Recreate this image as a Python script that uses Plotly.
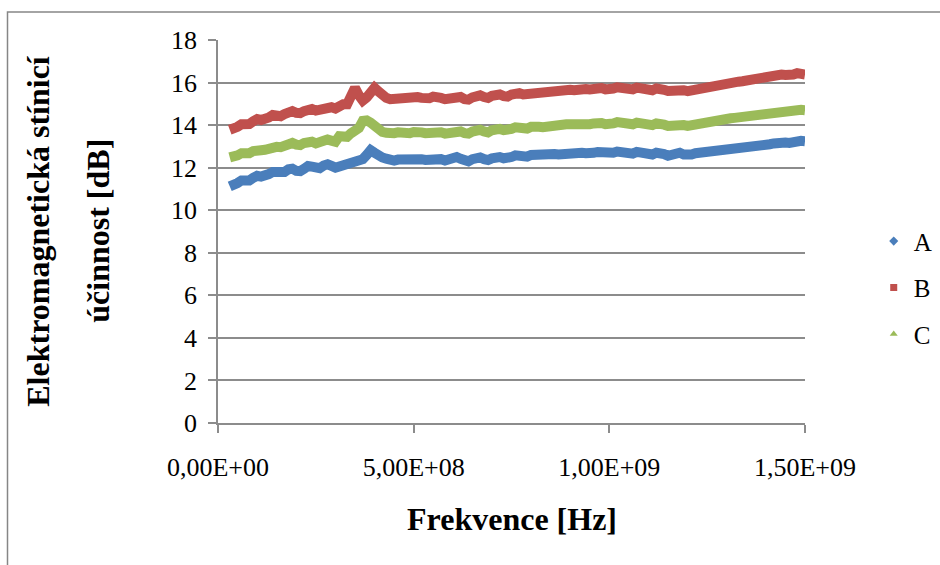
import numpy as np
import plotly.graph_objects as go

# Frequency sweep: 30 MHz to 1.5 GHz in 10 MHz steps
freq_hz = [3e7 + i * 1e7 for i in range(148)]

series_a = [
    11.12, 11.15, 11.28, 11.40, 11.38, 11.40, 11.52, 11.62, 11.58, 11.60,
    11.70, 11.80, 11.76, 11.72, 11.80, 11.92, 11.95, 11.85, 11.84, 11.95,
    12.08, 12.05, 11.96, 11.98, 12.10, 12.16, 12.08, 12.00, 12.06, 12.10,
    12.15, 12.28, 12.32, 12.33, 12.40, 12.60, 12.82, 12.70, 12.52, 12.48,
    12.42, 12.36, 12.33, 12.38, 12.40, 12.38, 12.36, 12.40, 12.44, 12.40,
    12.36, 12.38, 12.46, 12.48, 12.40, 12.34, 12.38, 12.48, 12.50, 12.42,
    12.34, 12.30, 12.40, 12.50, 12.48, 12.40, 12.36, 12.44, 12.52, 12.50,
    12.44, 12.42, 12.50, 12.58, 12.55, 12.50, 12.52, 12.60, 12.62, 12.58,
    12.56, 12.60, 12.66, 12.64, 12.62, 12.65, 12.68, 12.66, 12.64, 12.68,
    12.70, 12.68, 12.66, 12.70, 12.74, 12.72, 12.66, 12.64, 12.70, 12.76,
    12.74, 12.66, 12.60, 12.66, 12.74, 12.72, 12.64, 12.58, 12.62, 12.70,
    12.72, 12.64, 12.56, 12.60, 12.68, 12.70, 12.62, 12.58, 12.62, 12.68,
    12.70, 12.66, 12.66, 12.70, 12.74, 12.76, 12.78, 12.80, 12.84, 12.86,
    12.88, 12.90, 12.94, 12.96, 12.98, 13.02, 13.06, 13.08, 13.10, 13.14,
    13.18, 13.20, 13.18, 13.16, 13.22, 13.28, 13.26, 13.24,
]

series_b = [
    13.78, 13.80, 13.92, 14.04, 14.02, 14.05, 14.18, 14.28, 14.24, 14.26,
    14.36, 14.48, 14.45, 14.42, 14.52, 14.64, 14.66, 14.58, 14.56, 14.66,
    14.78, 14.76, 14.68, 14.72, 14.84, 14.90, 14.84, 14.78, 14.96, 14.98,
    14.98, 15.30, 15.75, 15.40, 15.15, 15.30, 15.60, 15.75, 15.58, 15.40,
    15.28, 15.22, 15.24, 15.28, 15.26, 15.22, 15.24, 15.30, 15.32, 15.28,
    15.24, 15.26, 15.34, 15.36, 15.28, 15.22, 15.26, 15.36, 15.40, 15.32,
    15.22, 15.20, 15.30, 15.42, 15.40, 15.32, 15.28, 15.38, 15.46, 15.44,
    15.36, 15.34, 15.44, 15.52, 15.50, 15.44, 15.46, 15.54, 15.58, 15.54,
    15.52, 15.56, 15.62, 15.62, 15.60, 15.62, 15.66, 15.66, 15.64, 15.68,
    15.72, 15.70, 15.68, 15.72, 15.76, 15.74, 15.68, 15.66, 15.72, 15.78,
    15.76, 15.68, 15.62, 15.68, 15.76, 15.74, 15.66, 15.60, 15.64, 15.72,
    15.74, 15.66, 15.60, 15.62, 15.70, 15.72, 15.64, 15.60, 15.64, 15.72,
    15.76, 15.74, 15.76, 15.82, 15.86, 15.88, 15.92, 15.96, 16.00, 16.02,
    16.04, 16.06, 16.10, 16.14, 16.16, 16.18, 16.22, 16.26, 16.28, 16.30,
    16.34, 16.38, 16.36, 16.32, 16.38, 16.44, 16.42, 16.38,
]

series_c = [
    12.48, 12.50, 12.58, 12.68, 12.66, 12.68, 12.78, 12.86, 12.82, 12.84,
    12.92, 13.02, 12.98, 12.96, 13.04, 13.14, 13.16, 13.08, 13.06, 13.16,
    13.24, 13.22, 13.14, 13.16, 13.26, 13.32, 13.28, 13.22, 13.48, 13.42,
    13.45, 13.62, 13.72, 13.86, 14.20, 14.22, 14.12, 13.95, 13.75, 13.68,
    13.64, 13.60, 13.62, 13.66, 13.64, 13.60, 13.62, 13.68, 13.70, 13.66,
    13.62, 13.64, 13.72, 13.74, 13.66, 13.60, 13.64, 13.74, 13.78, 13.70,
    13.62, 13.60, 13.70, 13.80, 13.78, 13.70, 13.66, 13.76, 13.84, 13.82,
    13.76, 13.74, 13.82, 13.90, 13.88, 13.82, 13.84, 13.92, 13.96, 13.92,
    13.90, 13.94, 14.00, 14.00, 13.98, 14.00, 14.04, 14.04, 14.02, 14.06,
    14.08, 14.06, 14.04, 14.08, 14.12, 14.10, 14.04, 14.02, 14.08, 14.14,
    14.12, 14.04, 13.98, 14.04, 14.12, 14.10, 14.02, 13.96, 14.00, 14.08,
    14.10, 14.02, 13.96, 13.98, 14.06, 14.08, 14.00, 13.96, 14.00, 14.08,
    14.12, 14.10, 14.12, 14.16, 14.20, 14.22, 14.26, 14.28, 14.32, 14.34,
    14.36, 14.38, 14.42, 14.46, 14.48, 14.50, 14.54, 14.58, 14.60, 14.62,
    14.66, 14.70, 14.68, 14.64, 14.68, 14.74, 14.72, 14.70,
]

series_names = ["A", "B", "C"]
series_colors = ["#4A7EBB", "#C0504D", "#9BBB59"]
legend_symbols = ["diamond", "square", "triangle-up"]

x_tick_vals = [0, 5e8, 1e9, 1.5e9]
x_tick_text = ["0,00E+00", "5,00E+08", "1,00E+09", "1,50E+09"]
y_tick_vals = list(range(0, 19, 2))

FONT = "Liberation Serif"
GRID = "#8C8C8C"

fig = go.Figure()
for i, (name, ys, col, sym) in enumerate(
        zip(series_names, [series_a, series_b, series_c], series_colors, legend_symbols)):
    # thick band of overlapping measurement points
    fig.add_trace(go.Scatter(
        x=freq_hz, y=ys, mode="lines", name=name, legendgroup=name,
        showlegend=False, cliponaxis=False,
        line=dict(color=col, width=10),
    ))
    # legend key: marker only
    fig.add_trace(go.Scatter(
        x=[None], y=[None], mode="markers", name=name, legendgroup=name,
        marker=dict(symbol=sym, color=col, size=7),
    ))

fig.update_layout(
    width=940, height=565,
    margin=dict(l=218, r=135, t=40, b=142, autoexpand=False),
    paper_bgcolor="white", plot_bgcolor="white",
    font=dict(family=FONT, size=26, color="black"),
    showlegend=True,
    legend=dict(
        xref="container", yref="container",
        x=0.9295, y=0.6135, xanchor="left", yanchor="top",
        font=dict(family=FONT, size=25),
        traceorder="grouped", tracegroupgap=11,
        itemwidth=30, bgcolor="rgba(0,0,0,0)",
    ),
    xaxis=dict(
        range=[0, 1.5e9], tickvals=x_tick_vals, ticktext=x_tick_text,
        showgrid=False, zeroline=False,
        showline=True, linecolor=GRID, linewidth=1.5,
        ticks="outside", ticklen=8, tickcolor=GRID, tickwidth=1.5,
        ticklabelstandoff=12,
        tickfont=dict(family=FONT, size=26),
    ),
    yaxis=dict(
        range=[0, 18], tickvals=y_tick_vals,
        showgrid=True, gridcolor=GRID, gridwidth=1.5, zeroline=False,
        showline=True, linecolor=GRID, linewidth=1.5,
        ticks="outside", ticklen=8, tickcolor=GRID, tickwidth=1.5,
        ticklabelstandoff=6,
        tickfont=dict(family=FONT, size=26),
    ),
    annotations=[
        dict(text="<b>Frekvence [Hz]</b>", xref="paper", yref="paper",
             x=0.5009, y=-0.251, xanchor="center", yanchor="middle",
             showarrow=False, font=dict(family=FONT, size=32)),
        dict(text="<b>Elektromagnetická stínicí</b>",
             xref="paper", yref="paper", x=-0.3066, y=0.502,
             xanchor="center", yanchor="middle", textangle=-90,
             showarrow=False, font=dict(family=FONT, size=32)),
        dict(text="<b>účinnost [dB]</b>",
             xref="paper", yref="paper", x=-0.2044, y=0.502,
             xanchor="center", yanchor="middle", textangle=-90,
             showarrow=False, font=dict(family=FONT, size=32)),
    ],
    shapes=[
        # chart-area border
        dict(type="rect", xref="paper", yref="paper",
             x0=-0.3586, x1=1.25, y0=-0.40, y1=1.0732,
             line=dict(color="#868686", width=1.5), layer="below"),
    ],
)

fig.write_html("out.html")
